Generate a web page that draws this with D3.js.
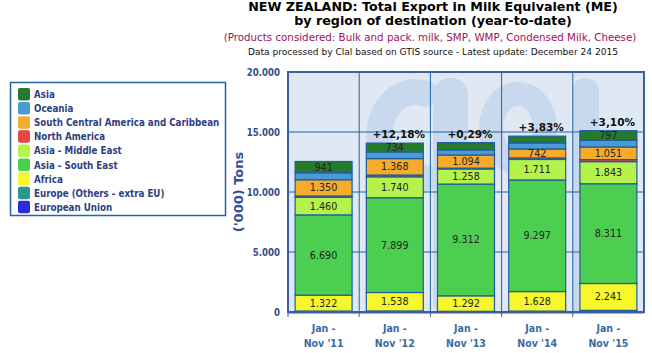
<!DOCTYPE html>
<html>
<head>
<meta charset="utf-8">
<script src="https://cdn.jsdelivr.net/npm/d3@7"></script>
<style>
  body { margin: 0; background: #fff; }
  svg { display: block; font-family: "DejaVu Sans", Verdana, sans-serif; }
</style>
</head>
<body>
<svg id="chart" width="652" height="353"></svg>
<script>
// data (thousand tons, milk equivalent)
const periods = ["Jan - Nov '11", "Jan - Nov '12", "Jan - Nov '13", "Jan - Nov '14", "Jan - Nov '15"];
const regions = ["European Union", "Europe (Others - extra EU)", "Africa", "Asia - South East",
                 "Asia - Middle East", "North America", "South Central America and Caribbean", "Oceania", "Asia"];
const euValues      = [21, 28, 17, 21, 35];
const europeOthers  = [60, 60, 40, 55, 100];
const africa        = [1322, 1538, 1292, 1628, 2241];
const asiaSouthEast = [6690, 7899, 9312, 9297, 8311];
const asiaMiddle    = [1460, 1740, 1258, 1711, 1843];
const northAmerica  = [120, 150, 70, 130, 170];
const southCentral  = [1350, 1368, 1094, 742, 1051];
const oceania       = [580, 555, 430, 510, 560];
const asia          = [941, 734, 600, 560, 797];
const growth        = [null, "+12,18%", "+0,29%", "+3,83%", "+3,10%"];
const yTicks        = [0, 5000, 10000, 15000, 20000];

const colors = ["#2b2bd6", "#2a9690", "#f7f72b", "#4ccf50", "#b6f24c", "#e84444", "#f6ab2b", "#4b9ad6", "#257a2c"];
const seriesValues = [euValues, europeOthers, africa, asiaSouthEast, asiaMiddle, northAmerica, southCentral, oceania, asia];

const svg = d3.select("#chart");
const plot = {left: 288, right: 644, top: 72, bottom: 312};
const cond = "'DejaVu Sans Condensed', 'DejaVu Sans', sans-serif";

const fmt = d3.formatLocale({decimal: ",", thousands: ".", grouping: [3], currency: ["", ""]}).format(",");

const rows = periods.map((p, i) => {
  const r = {period: p};
  regions.forEach((reg, k) => r[reg] = seriesValues[k][i]);
  return r;
});
const stacked = d3.stack().keys(regions)(rows);

const xGrid = d3.scaleBand().domain(periods).range([plot.left, plot.right]);
const x = d3.scaleBand().domain(periods).range([plot.left, plot.right]).paddingInner(0.2).paddingOuter(0.1);
const y = d3.scaleLinear().domain([0, 20000]).range([plot.bottom, plot.top]);

// titles
svg.append("text").attr("x", 433).attr("y", 11).attr("text-anchor", "middle")
  .style("font-size", "12.7px").style("font-weight", "bold").attr("fill", "#000")
  .text("NEW ZEALAND: Total Export in Milk Equivalent (ME)");
svg.append("text").attr("x", 433).attr("y", 24.5).attr("text-anchor", "middle")
  .style("font-size", "12.7px").style("font-weight", "bold").attr("fill", "#000")
  .text("by region of destination (year-to-date)");
svg.append("text").attr("x", 430).attr("y", 40.5).attr("text-anchor", "middle")
  .style("font-size", "10.3px").attr("fill", "#a0105a")
  .text("(Products considered: Bulk and pack. milk, SMP, WMP, Condensed Milk, Cheese)");
svg.append("text").attr("x", 433).attr("y", 55).attr("text-anchor", "middle")
  .style("font-size", "9.05px").attr("fill", "#111")
  .text("Data processed by Clal based on GTIS source - Latest update: December 24 2015");

// plot background + watermark
svg.append("defs").append("clipPath").attr("id", "plotclip")
  .append("rect").attr("x", plot.left).attr("y", plot.top)
  .attr("width", plot.right - plot.left).attr("height", plot.bottom - plot.top);

svg.append("rect").attr("x", plot.left).attr("y", plot.top)
  .attr("width", plot.right - plot.left).attr("height", plot.bottom - plot.top)
  .attr("fill", "#e0e8f4");

const wm = svg.append("g").attr("clip-path", "url(#plotclip)").attr("fill", "none").attr("stroke", "#c8d8ee");
wm.append("path").attr("d", "M426,94 A36,44 0 1 0 426,178").attr("stroke-width", 26).attr("stroke-linecap", "round");
wm.append("rect").attr("x", 433).attr("y", 78).attr("width", 35).attr("height", 240).attr("rx", 17)
  .attr("fill", "#c8d8ee").attr("stroke", "none");
wm.append("ellipse").attr("cx", 518).attr("cy", 128).attr("rx", 27).attr("ry", 34).attr("stroke-width", 24);
wm.append("rect").attr("x", 532).attr("y", 110).attr("width", 23).attr("height", 200).attr("rx", 11)
  .attr("fill", "#c8d8ee").attr("stroke", "none");
wm.append("rect").attr("x", 572).attr("y", 78).attr("width", 27).attr("height", 240).attr("rx", 13)
  .attr("fill", "#c8d8ee").attr("stroke", "none");

// grid
const grid = svg.append("g");
grid.selectAll(".hg").data(yTicks).join("line")
  .attr("x1", plot.left).attr("x2", plot.right)
  .attr("y1", d => y(d)).attr("y2", d => y(d))
  .attr("stroke", "#1f66a3").attr("stroke-width", 1);
grid.selectAll(".vg").data(periods.slice(1)).join("line")
  .attr("x1", d => xGrid(d)).attr("x2", d => xGrid(d))
  .attr("y1", plot.top).attr("y2", plot.bottom)
  .attr("stroke", "#1f66a3").attr("stroke-width", 1);

// bars
const layers = svg.append("g").selectAll("g").data(stacked).join("g")
  .attr("fill", (d, i) => colors[i]);
layers.selectAll("rect").data(d => d).join("rect")
  .attr("x", d => x(d.data.period))
  .attr("width", x.bandwidth())
  .attr("y", d => y(d[1]))
  .attr("height", d => y(d[0]) - y(d[1]))
  .attr("stroke", "#1d5d9c").attr("stroke-width", 1.2);

// segment labels
const labels = [];
stacked.forEach(layer => layer.forEach(d => {
  const v = d[1] - d[0];
  if (v >= 700) labels.push({period: d.data.period, v, mid: (d[0] + d[1]) / 2});
}));
svg.append("g").selectAll("text").data(labels).join("text")
  .attr("x", d => x(d.period) + x.bandwidth() / 2)
  .attr("y", d => y(d.mid) + 3.5)
  .attr("text-anchor", "middle")
  .style("font-size", "9.6px").attr("fill", "#222")
  .text(d => fmt(d.v));

// growth labels
const topLayer = stacked[stacked.length - 1];
svg.append("g").selectAll("text").data(topLayer).join("text")
  .attr("x", d => x(d.data.period) + x.bandwidth() / 2 + 4)
  .attr("y", d => y(d[1]) - 5)
  .attr("text-anchor", "middle")
  .style("font-size", "10.5px").style("font-weight", "bold").attr("fill", "#111")
  .text((d, i) => growth[i] || "");

// plot border
svg.append("rect").attr("x", plot.left).attr("y", plot.top)
  .attr("width", plot.right - plot.left).attr("height", plot.bottom - plot.top)
  .attr("fill", "none").attr("stroke", "#3a5f9e").attr("stroke-width", 2);

// y axis labels
svg.append("g").selectAll("text").data(yTicks).join("text")
  .attr("x", 280).attr("y", d => y(d) + 4)
  .attr("text-anchor", "end")
  .style("font-family", cond)
  .style("font-size", "9.6px").style("font-weight", "bold").attr("fill", "#3a4f8c")
  .text(d => fmt(d));

svg.append("text").attr("transform", `translate(243,192) rotate(-90)`)
  .attr("text-anchor", "middle")
  .style("font-size", "13px").style("font-weight", "bold").attr("fill", "#34509a")
  .text("('000) Tons");

// x axis
const xAxis = svg.append("g");
xAxis.append("line").attr("x1", plot.left).attr("x2", plot.right)
  .attr("y1", plot.bottom + 1).attr("y2", plot.bottom + 1).attr("stroke", "#3a5f9e").attr("stroke-width", 1);
xAxis.selectAll(".tick").data(periods).join("line")
  .attr("x1", d => xGrid(d)).attr("x2", d => xGrid(d))
  .attr("y1", plot.bottom).attr("y2", plot.bottom + 5)
  .attr("stroke", "#3a5f9e");
const xl = xAxis.selectAll(".xl").data(periods).join("text")
  .attr("text-anchor", "middle")
  .style("font-family", cond)
  .style("font-size", "10.5px").style("font-weight", "bold").attr("fill", "#3a6aa4");
xl.append("tspan").attr("x", d => xGrid(d) + xGrid.bandwidth() / 2).attr("y", 332).text("Jan -");
xl.append("tspan").attr("x", d => xGrid(d) + xGrid.bandwidth() / 2).attr("y", 347).text(d => d.replace("Jan - ", ""));

// legend (top of stack first)
const legend = svg.append("g");
legend.append("rect").attr("x", 10.5).attr("y", 82.5).attr("width", 215).attr("height", 133)
  .attr("fill", "#fff").attr("stroke", "#1f66a3").attr("stroke-width", 1.5);
const items = regions.map((r, i) => ({name: r, color: colors[i]})).reverse();
const li = legend.selectAll("g").data(items).join("g")
  .attr("transform", (d, i) => `translate(18,${88 + i * 14.1})`);
li.append("rect").attr("width", 12).attr("height", 12.5).attr("rx", 2).attr("fill", d => d.color);
li.append("text").attr("x", 16).attr("y", 10)
  .style("font-family", cond)
  .style("font-size", "9.7px").style("font-weight", "bold").attr("fill", "#2e3f80")
  .text(d => d.name);
</script>
</body>
</html>
